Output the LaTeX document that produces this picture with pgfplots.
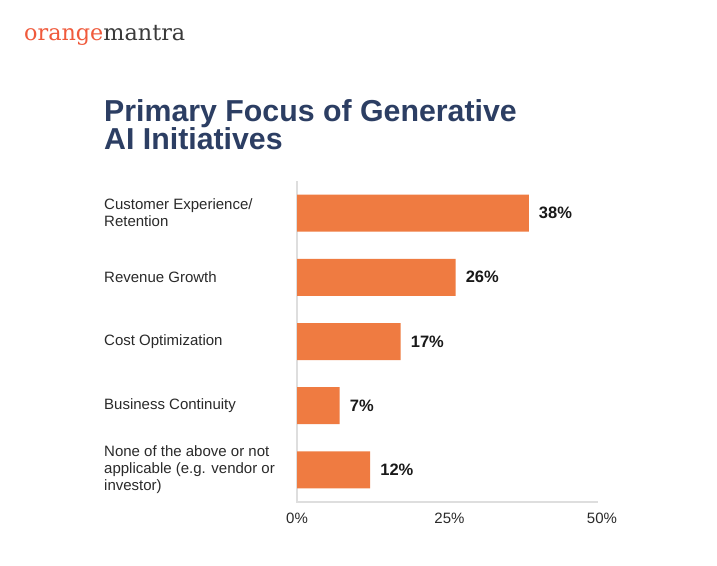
\documentclass[border=0pt]{standalone}
\usepackage{pgfplots}
\pgfplotsset{compat=1.18}
\usepackage{fontspec}
\setmainfont{Liberation Sans}
\newfontfamily\logofont{DejaVu Serif}
\definecolor{barorange}{HTML}{EF7B41}
\definecolor{logoorange}{HTML}{F05A3C}
\definecolor{logogray}{HTML}{3A3A3A}
\definecolor{titlenavy}{HTML}{2C3E63}
\definecolor{txt}{HTML}{2A2A2A}
\definecolor{axgray}{HTML}{DEDEDE}
\begin{document}
\begin{tikzpicture}
\fill[white] (0,0) rectangle (717pt,565pt);
\node[anchor=base west, inner sep=0pt] at (24pt,524pt)
  {\resizebox{161pt}{!}{\logofont\color{logoorange}orange\color{logogray}mantra}};
\node[anchor=base west, inner sep=0pt, text=titlenavy] at (104pt,443pt)
  {\fontsize{30.3}{28}\selectfont\bfseries Primary Focus of Generative};
\node[anchor=base west, inner sep=0pt, text=titlenavy] at (104pt,415pt)
  {\fontsize{30.3}{28}\selectfont\bfseries AI Initiatives};
\begin{axis}[
  at={(297pt,63pt)}, anchor=south west,
  scale only axis, width=305pt, height=321pt,
  xmin=0, xmax=50, ymin=-0.5, ymax=4.5,
  y dir=reverse,
  xbar, bar width=37pt,
  axis line style={draw=none},
  major tick length=0pt,
  xtick={0,25,50},
  xticklabel={\pgfmathprintnumber{\tick}\%},
  /pgf/number format/assume math mode=true,
  xticklabel style={font=\fontsize{15}{17}\selectfont, text=txt, inner sep=0pt, anchor=north, yshift=-11pt},
  ytick={0,1,2,3,4},
  yticklabels={{Customer Experience/\\Retention},{Revenue Growth},{Cost Optimization},{Business Continuity},{None of the above or not\\applicable (e.g. vendor or\\investor)}},
  yticklabel style={font=\fontsize{15}{17}\selectfont, text=txt, anchor=west, align=left, inner sep=0pt, xshift=-193pt},
  point meta=x,
  nodes near coords={\pgfmathprintnumber{\pgfplotspointmeta}\%},
  nodes near coords style={font=\fontsize{16.5}{18}\selectfont\bfseries, text=black!90, anchor=west, inner sep=0pt, xshift=10pt},
  clip=false,
]
\draw[axgray, line width=1.3pt] (axis cs:0,-0.5) -- (axis cs:0,4.5) -- (axis cs:49.3,4.5);
\addplot[fill=barorange, draw=none] coordinates {(38,0) (26,1) (17,2) (7,3) (12,4)};
\end{axis}
\end{tikzpicture}
\end{document}
